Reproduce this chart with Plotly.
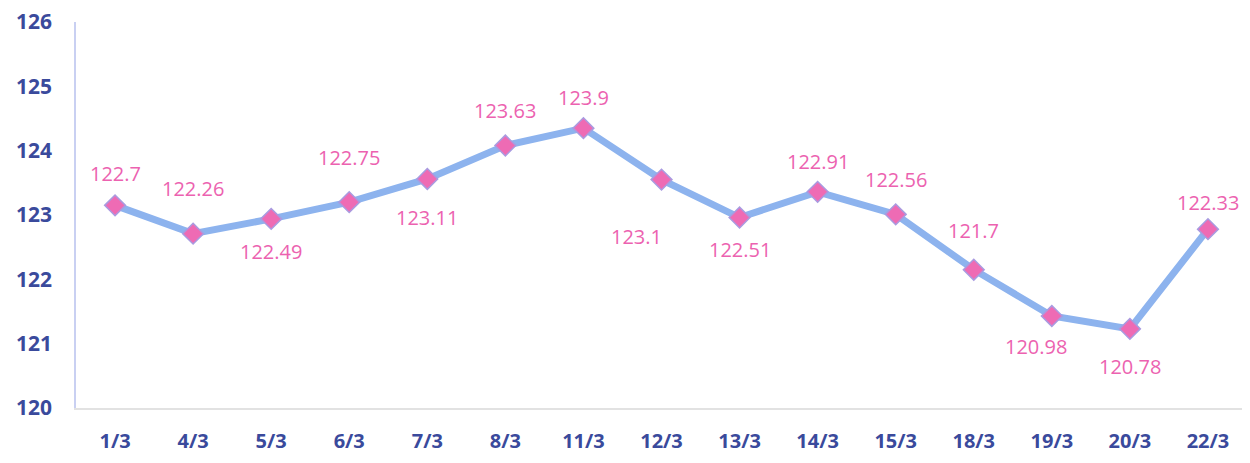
import plotly.graph_objects as go

dates = ["1/3", "4/3", "5/3", "6/3", "7/3", "8/3", "11/3", "12/3", "13/3",
         "14/3", "15/3", "18/3", "19/3", "20/3", "22/3"]
values = [122.7, 122.26, 122.49, 122.75, 123.11, 123.63, 123.9, 123.1, 122.51,
          122.91, 122.56, 121.7, 120.98, 120.78, 122.33]
y_tick_labels = ["120", "121", "122", "123", "124", "125", "126"]

# axis in the picture is drawn offset from the labelled values
axis_offset = 0.45
y_tick_vals = [int(t) - axis_offset for t in y_tick_labels]

# label placement (style): vertical pixel shift and horizontal shift per point
label_dy = [-32, -45, 33, -45, 39, -35, -31, 57, 32, -30, -35, -39, 30, 38, -27]
label_dx = [0, 0, 0, 0, 0, 0, 0, -25, 0, 0, 0, 0, -16, 0, 0]

FONT = "Open Sans, Liberation Sans, sans-serif"

fig = go.Figure()
fig.add_trace(go.Scatter(
    x=dates, y=values, mode="lines+markers",
    line=dict(color="#8db3ee", width=7),
    marker=dict(symbol="diamond", size=16, color="#ee6bb4",
                line=dict(color="#a99be0", width=1.5)),
    hoverinfo="x+y",
))

for d, v, dy, dx in zip(dates, values, label_dy, label_dx):
    fig.add_annotation(x=d, y=v, text=f"{v:g}", showarrow=False,
                       yshift=-dy, xshift=dx,
                       font=dict(family=FONT, size=20, color="#ec62b0"))

# page body has an 8px margin; figure is sized to fill the rest of the window
fig.update_layout(
    width=1242, height=455,
    margin=dict(l=68, r=3, t=14, b=55),
    paper_bgcolor="white", plot_bgcolor="white",
    showlegend=False,
)
fig.update_xaxes(
    type="category", range=[-0.5, len(dates) - 0.5], automargin=False,
    showgrid=False, showline=True, linecolor="#e2e2e2", linewidth=2,
    ticks="", ticklabelstandoff=14, ticklabeloverflow="allow",
    tickfont=dict(family=FONT, size=20, color="#3a4a9c", weight="bold"),
)
fig.update_yaxes(
    range=[120 - axis_offset, 126 - axis_offset], automargin=False,
    tickvals=y_tick_vals, ticktext=y_tick_labels,
    showgrid=False, zeroline=False, showline=True, linecolor="#c9d0f2",
    linewidth=1.5, ticks="", ticklabelstandoff=18, ticklabeloverflow="allow",
    tickfont=dict(family=FONT, size=21, color="#3a4a9c", weight="bold"),
)

fig.write_html("out.html")
